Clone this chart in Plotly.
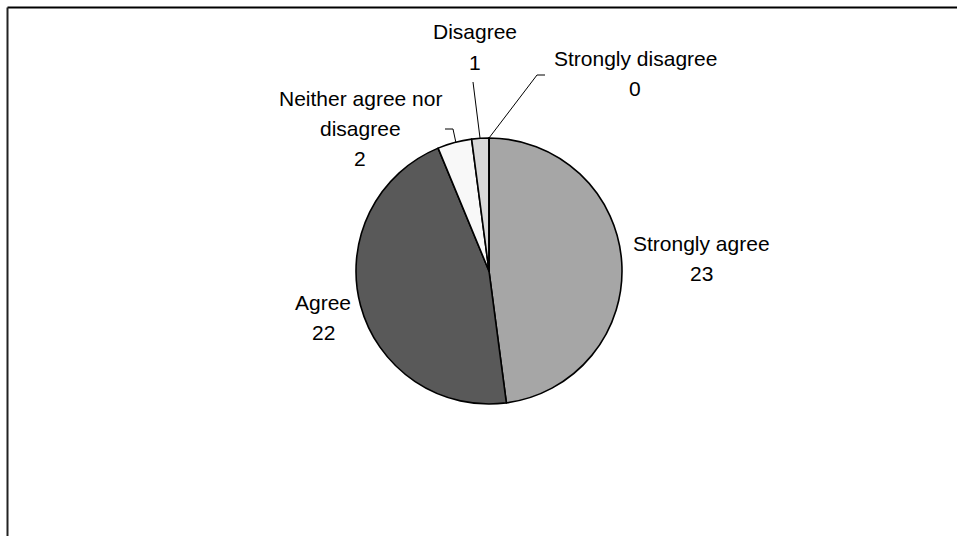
import plotly.graph_objects as go

# Survey responses
categories = ["Strongly agree", "Agree", "Neither agree nor disagree", "Disagree", "Strongly disagree"]
counts = [23, 22, 2, 1, 0]
slice_colors = ["#A6A6A6", "#595959", "#F8F8F8", "#D9D9D9", "#FFFFFF"]

# How each category name wraps in its outside label
label_lines = {
    "Neither agree nor disagree": ["Neither agree nor", "disagree"],
}

W, H = 957, 536

def px(x, y):
    """Pixel position -> paper coordinates."""
    return x / W, 1 - y / H

# Pie geometry (pixels)
cx, cy, r = 489, 271, 133

# Label anchors: centre of the first text line, in pixels
label_pos = {
    "Strongly agree": (701, 243),
    "Agree": (323, 302),
    "Neither agree nor disagree": (360, 98),
    "Disagree": (475, 32),
    "Strongly disagree": (635, 58),
}
line_gap = 30

# Leader lines from outside labels to thin slices (pixels)
leaders = [
    [(445, 129), (453, 129), (456, 143)],
    [(473, 82), (480, 138)],
    [(545, 75), (537, 75), (489, 138)],
]

font_family = "Arial, Liberation Sans, sans-serif"

fig = go.Figure(go.Pie(
    labels=categories,
    values=counts,
    sort=False,
    direction="clockwise",
    rotation=0,
    textinfo="none",
    hoverinfo="label+value",
    marker=dict(colors=slice_colors, line=dict(color="black", width=1.6)),
    domain=dict(x=[(cx - r) / W, (cx + r) / W], y=[1 - (cy + r) / H, 1 - (cy - r) / H]),
    showlegend=False,
))

annotations = []
for name, value in zip(categories, counts):
    lines = label_lines.get(name, [name]) + [str(value)]
    x0, y0 = label_pos[name]
    for i, txt in enumerate(lines):
        ax, ay = px(x0, y0 + i * line_gap)
        annotations.append(dict(
            x=ax, y=ay, xref="paper", yref="paper", text=txt, showarrow=False,
            xanchor="center", yanchor="middle",
            font=dict(family=font_family, size=21, color="black"),
        ))

shapes = []
for pts in leaders:
    path = "M" + " L".join(f"{px(x, y)[0]},{px(x, y)[1]}" for x, y in pts)
    shapes.append(dict(type="path", xref="paper", yref="paper", path=path,
                       line=dict(color="black", width=1)))

# Chart frame (top and left edges)
shapes.append(dict(type="line", xref="paper", yref="paper",
                   x0=7.5 / W, x1=1.0, y0=1 - 7.5 / H, y1=1 - 7.5 / H,
                   line=dict(color="black", width=2)))
shapes.append(dict(type="line", xref="paper", yref="paper",
                   x0=7.5 / W, x1=7.5 / W, y0=1 - 7.5 / H, y1=0,
                   line=dict(color="#222222", width=2)))

fig.update_layout(
    width=W, height=H,
    margin=dict(l=0, r=0, t=0, b=0),
    paper_bgcolor="white",
    plot_bgcolor="white",
    annotations=annotations,
    shapes=shapes,
)

fig.write_html("out.html")
